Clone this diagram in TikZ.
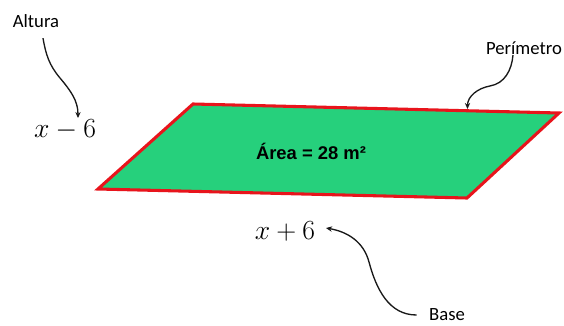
\documentclass[tikz,border=0pt]{standalone}
\usepackage{fontspec}
\setmainfont{Carlito}
\newfontfamily\arialfont{Liberation Sans}
\usepackage{tikz}
\usetikzlibrary{arrows.meta,calc}
\definecolor{lawngreen}{HTML}{26D07C}
\definecolor{edgered}{HTML}{E8141C}
\tikzset{tag/.style={font=\fontsize{14}{16}\selectfont,inner sep=1pt},
  expr/.style={font=\fontsize{20.5}{23}\selectfont,inner sep=1pt},
  pointer/.style={-{Stealth[length=4.5pt,width=4pt]},line width=1pt,draw=black!90}}

\begin{document}
\begin{tikzpicture}[x=0.75pt,y=0.75pt]
 \useasboundingbox (0,0) rectangle (564,-325);
 \fill[white] (0,0) rectangle (564,-325);
 \coordinate (tl) at (193,-104);
 \coordinate (tr) at (559,-113);
 \coordinate (br) at (467,-198);
 \coordinate (bl) at (98,-189);
 \draw[fill=lawngreen,draw=edgered,line width=2.3pt,line join=miter]
  (tl)--(tr)--(br)--(bl)--cycle;
 \node[font=\arialfont\bfseries\fontsize{13.8}{16}\selectfont] (area) at (311,-151)
  {Área = 28 m²};
 \node[tag] (alt) at (36,-21) {Altura};
 \node[tag] (per) at (524,-48) {Perímetro};
 \node[tag] (bas) at (447,-315) {Base};
 \node[expr] (hgt) at (65,-130) {$x-6$};
 \node[expr] (len) at (285,-231) {$x+6$};
 \coordinate (alttip) at (78,-118);
 \coordinate (pertip) at ($(tl)!0.75!(tr)+(0,1.8)$);
 \coordinate (bastip) at (326,-228);
 \draw[pointer] ($(alt.south)+(7,-9)$) to[out=-80,in=130] (60,-78)
  to[out=-50,in=90] (alttip);
 \draw[pointer] ($(per.south)+(-11,1)$) to[out=-95,in=10] (490,-86)
  to[out=190,in=90] (pertip);
 \draw[pointer] ($(bas.west)+(-11,0)$) to[out=180,in=-75] (369,-262)
  to[out=105,in=-10] (bastip);
\end{tikzpicture}
\end{document}
